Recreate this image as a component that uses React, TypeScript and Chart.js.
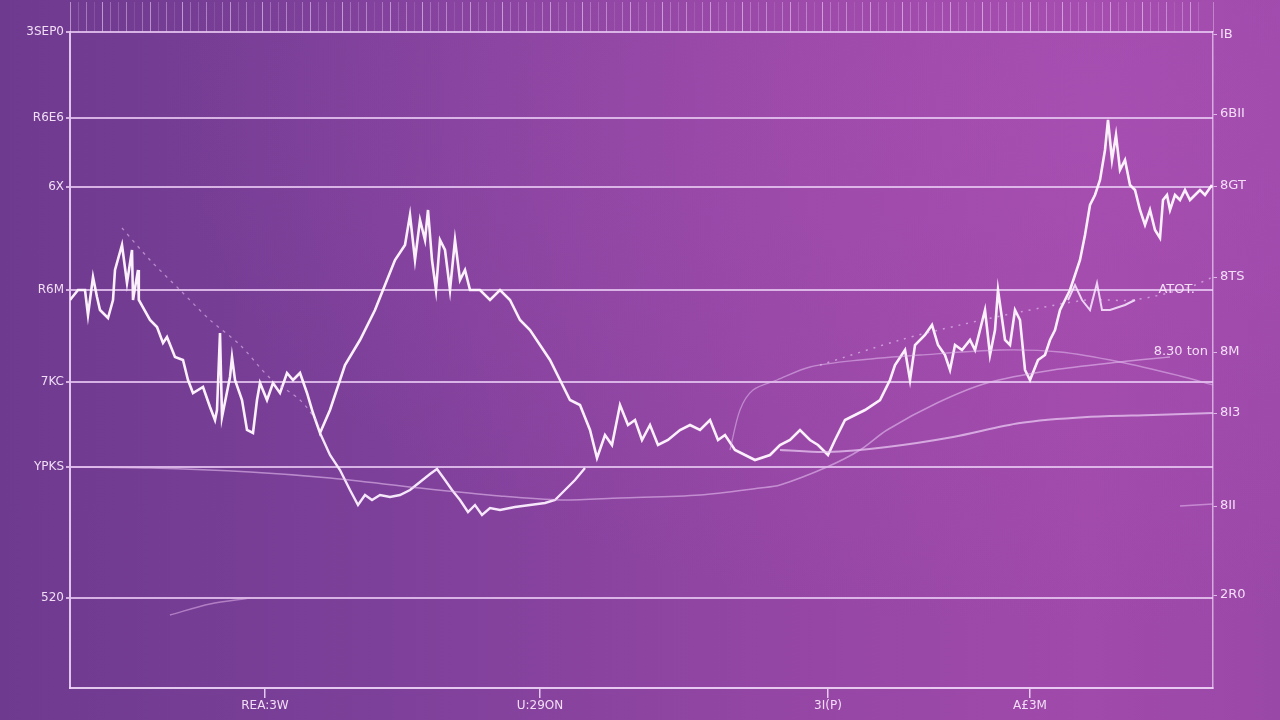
import React, { useEffect, useRef } from "react";
import { Chart, registerables } from "chart.js";

Chart.register(...registerables);

// ---- Data (x: period index, y: value) ----
const mainSeries: [number, number][] = [
  [0, 97], [2, 99.5], [3.75, 99.5], [4.5, 93.25], [5.75, 102.75], [6.75, 97.75], [7.5, 94.5],
  [9.5, 92.5], [10.75, 97], [11.25, 104.5], [13, 110.75], [14.25, 101.25], [15.5, 109.5],
  [15.75, 97], [17, 104.5], [17.2, 97], [20, 92], [21.75, 90.25], [23.25, 86.25], [24.25, 87.75],
  [26.25, 82.75], [28.25, 82], [29.5, 77], [30.75, 73.75], [33.25, 75.25], [35, 70.25],
  [36.25, 67], [36.75, 69.5], [37.5, 88.75], [38, 67.75], [40, 77.75], [40.5, 82.75],
  [41.25, 77], [43, 72], [44.25, 64.5], [45.75, 63.75], [46.75, 72], [47.5, 76.25], [49.25, 72],
  [50.75, 76.25], [52.5, 73.75], [54.25, 78.75], [55.75, 77], [57.5, 78.75], [59.25, 73.75],
  [60.75, 68.75], [62.5, 63.75], [65, 69.5], [68.75, 80.75], [72.5, 87], [76.25, 94.5],
  [78.75, 100.75], [81.25, 107], [83.75, 110.75], [85, 118.25], [86.25, 107], [87.5, 117],
  [88.75, 112], [89.5, 119.5], [90.5, 107], [91.5, 99.5], [92.5, 112], [93.75, 109.5], [95, 99.5],
  [96.25, 112], [97.5, 102], [98.75, 104.5], [100, 99.5], [102.5, 99.5], [105, 97], [107.5, 99.5],
  [110, 97], [112.5, 92], [115, 89.5], [117.5, 85.75], [120, 82], [122.5, 77], [125, 72],
  [127.5, 70.75], [130, 64.5], [131.75, 57.5], [133.75, 63.25], [135.5, 60.75], [137.5, 70.75],
  [139.5, 65.75], [141.25, 67], [143, 62], [145, 65.75], [147, 60.75], [149.5, 62], [152.5, 64.5],
  [155, 65.75], [157.5, 64.5], [160, 67], [162, 62], [163.75, 63.25], [166.25, 59.5],
  [168.75, 58.25], [171.25, 57], [175, 58.25], [177.5, 60.75], [180, 62], [182.5, 64.5], [185, 62],
  [187, 60.75], [189.5, 58.25], [191.25, 62], [193.75, 67], [196.25, 68.25], [198.75, 69.5],
  [202.5, 72], [205, 77], [206.25, 80.75], [208.75, 84.5], [210, 77], [211.25, 85.75],
  [213.75, 88.25], [215.5, 90.75], [217, 85.75], [218.75, 83.25], [220, 79.5], [221.25, 85.75],
  [223, 84.5], [225, 87], [226.25, 84.5], [228.75, 94.5], [230, 83.25], [231.25, 89.5], [232, 99.5],
  [233.75, 87], [235, 85.75], [236.25, 94.5], [237.5, 92], [238.75, 79.5], [240, 77], [242, 82],
  [243.75, 83.25], [245, 87], [246.25, 89.5], [247.5, 94.5], [248.75, 97], [250, 99.5],
  [251.25, 103.25], [252.5, 107], [253.75, 113.25], [255, 120.75], [256.25, 123.25], [257.5, 127],
  [258.75, 134.5], [259.5, 142], [260.5, 132], [261.5, 138.25], [262.5, 129.5], [263.75, 132],
  [265, 125.75], [266.25, 124.5], [267.5, 119.5], [268.75, 115.75], [270, 119.5], [271.25, 114.5],
  [272.5, 112.5], [273.25, 122], [274.25, 123.25], [275, 119.5], [276.25, 123.25], [277.5, 122],
  [278.75, 124.5], [280, 122], [281.25, 123.25], [282.5, 124.5], [283.75, 123.25], [285.5, 125.75],
];

const branchSeries: [number, number][] = [
  [249.5, 97], [251.25, 100.75], [253, 97], [255, 94.5], [256.75, 101.25], [258, 94.5],
  [260, 94.5], [263.75, 95.75], [266.25, 97],
];

const troughSeries: [number, number][] = [
  [62.5, 63.75], [65, 58.25], [67.5, 54.5], [70, 49.5], [72, 45.75], [73.75, 48.25], [75.5, 47],
  [77.5, 48.25], [80, 47.75], [82.5, 48.25], [85, 49.5], [87.5, 51.5], [90, 53.5], [91.75, 54.75],
  [93.75, 52], [95.5, 49.5], [97.5, 47], [99.5, 44], [101.25, 45.75], [103, 43.25], [105, 45],
  [107.5, 44.5], [111.25, 45.25], [115, 45.75], [118.75, 46.25], [121.25, 47], [123.75, 49.5],
  [126.25, 52], [128.75, 55],
];

const trendDown: [number, number][] = [
  [13, 115], [20, 107], [27.5, 99.5], [35, 92], [42.5, 85.75], [50, 77.5], [57.5, 72], [62.5, 65.75],
];

const baseLine: [number, number][] = [
  [0, 55.25], [20, 55], [45, 54], [65, 52.5], [87.5, 50], [107.5, 48], [122.5, 47], [137.5, 47.5],
  [157.5, 48.25], [172.5, 50], [177.5, 50.75], [189.25, 55.25], [197.5, 59.5], [204.25, 64.5],
  [216.75, 71.25], [229.25, 76.25], [245.75, 79.5], [262.5, 81.5], [275, 82.75],
];

const slowLine: [number, number][] = [
  [177.5, 59.5], [189.25, 59], [204.25, 60.25], [220.75, 62.75], [237.5, 66.25], [254.25, 67.75],
  [270.75, 68.25], [285.75, 68.75],
];

const riseLine: [number, number][] = [
  [165, 59.5], [167.5, 69.5], [170.75, 74.5], [176.75, 77], [185, 80.25], [197.5, 82],
  [212.5, 83.25], [232.5, 84.5], [247.5, 84], [262.5, 81.5], [277.5, 78], [285.75, 75.75],
];

const dottedUpper: [number, number][] = [
  [187.5, 80.75], [207.5, 87], [222.5, 90.75], [237.5, 94], [254.25, 97], [265.75, 97],
  [279.25, 100], [285.75, 102.75],
];

const stubLow: [number, number][] = [[25, 18.25], [35, 21], [45, 22.5]];
const stubRight: [number, number][] = [[277.5, 45.5], [285.75, 46]];

// ---- Axis ticks and labels ----
const leftTickValues = [164, 142.5, 125.25, 99.5, 76.5, 55.25, 22.5];
const leftTickLabels = ["3SEP0", "R6E6", "6X", "R6M", "7KC", "YPKS", "520"];
const rightTickValues = [163.25, 143.5, 125.5, 102.75, 84, 68.75, 45.5, 23.25];
const rightTickLabels = ["IB", "6BII", "8GT", "8TS", "8M", "8I3", "8II", "2R0"];
const bottomTickValues = [48.75, 117.5, 189.5, 240];
const bottomTickLabels = ["REA:3W", "U:29ON", "3I(P)", "A£3M"];
const topTickAlpha = [0.55, 0.2, 0.4, 0.15, 0.6, 0.3, 0.22, 0.45, 0.12, 0.35];

const noteLabels = ["8.30 ton", "ATOT."];
const noteX = [284.5, 281.25];
const noteY = [84, 99.5];

const X_MAX = 285.75;
const Y_MAX = 164;

const labelColor = "rgba(248,230,250,0.95)";
const gridColor = "rgba(232,200,242,0.85)";

const toPts = (s: [number, number][]) => s.map(([x, y]) => ({ x, y }));

const notesPlugin = {
  id: "notes",
  afterDatasetsDraw(chart: any) {
    const { ctx, scales } = chart;
    ctx.save();
    ctx.fillStyle = labelColor;
    ctx.font = "13px 'DejaVu Sans'";
    ctx.textAlign = "right";
    ctx.textBaseline = "middle";
    noteLabels.forEach((t, i) => {
      ctx.fillText(t, scales.x.getPixelForValue(noteX[i]), scales.y.getPixelForValue(noteY[i]));
    });
    ctx.restore();
  },
};

export default function App() {
  const ref = useRef<HTMLCanvasElement | null>(null);

  useEffect(() => {
    if (!ref.current) return;
    const faint = (data: [number, number][], color: string, width: number, dash: number[] = []) => ({
      data: toPts(data),
      borderColor: color,
      borderWidth: width,
      borderDash: dash,
      pointRadius: 0,
      tension: 0.3,
      fill: false,
    });
    const chart = new Chart(ref.current, {
      type: "line",
      data: {
        datasets: [
          faint(stubLow, "rgba(225,180,235,0.55)", 1.5),
          faint(stubRight, "rgba(225,180,235,0.6)", 1.5),
          faint(baseLine, "rgba(228,190,238,0.6)", 1.5),
          faint(slowLine, "rgba(232,200,242,0.75)", 2),
          faint(riseLine, "rgba(228,190,238,0.55)", 1.3),
          faint(dottedUpper, "rgba(235,205,245,0.6)", 1.5, [2, 6]),
          faint(trendDown, "rgba(230,190,240,0.6)", 1.3, [3, 5]),
          {
            data: toPts(troughSeries),
            borderColor: "rgba(252,240,255,0.95)",
            borderWidth: 2.4,
            pointRadius: 0,
            tension: 0,
            fill: false,
          },
          {
            data: toPts(branchSeries),
            borderColor: "rgba(250,235,255,0.85)",
            borderWidth: 2,
            pointRadius: 0,
            tension: 0,
            fill: false,
          },
          {
            data: toPts(mainSeries),
            borderColor: "rgba(255,246,255,0.97)",
            borderWidth: 2.6,
            pointRadius: 0,
            tension: 0,
            fill: false,
          },
        ],
      },
      options: {
        responsive: false,
        animation: false,
        devicePixelRatio: 1,
        layout: { padding: 0 },
        plugins: { legend: { display: false }, tooltip: { enabled: false } },
        scales: {
          x: {
            type: "linear",
            position: "bottom",
            min: 0,
            max: X_MAX,
            afterBuildTicks: (s: any) => {
              s.ticks = bottomTickValues.map((v) => ({ value: v }));
            },
            afterFit: (s: any) => {
              s.height = 32;
            },
            ticks: {
              autoSkip: false,
              maxRotation: 0,
              padding: 1,
              color: labelColor,
              font: { family: "'DejaVu Sans'", size: 12 },
              callback: (_v: any, i: number) => bottomTickLabels[i],
            },
            grid: {
              drawOnChartArea: false,
              drawTicks: true,
              tickLength: 10,
              color: "rgba(240,215,248,0.9)",
              lineWidth: 1.5,
            },
            border: { display: true, color: "rgba(240,215,248,0.9)", width: 2 },
          },
          xTop: {
            type: "linear",
            position: "top",
            min: 0,
            max: X_MAX,
            afterFit: (s: any) => {
              s.height = 32;
            },
            ticks: { display: false, stepSize: 2, autoSkip: false },
            grid: {
              drawOnChartArea: false,
              drawTicks: true,
              tickLength: 30,
              color: (c: any) => `rgba(240,215,248,${topTickAlpha[c.index % topTickAlpha.length]})`,
              lineWidth: 1,
            },
            border: { display: false },
          },
          y: {
            type: "linear",
            position: "left",
            min: 0,
            max: Y_MAX,
            afterBuildTicks: (s: any) => {
              s.ticks = leftTickValues.map((v) => ({ value: v }));
            },
            afterFit: (s: any) => {
              s.width = 70;
            },
            ticks: {
              autoSkip: false,
              padding: 2,
              color: labelColor,
              font: { family: "'DejaVu Sans'", size: 12 },
              callback: (_v: any, i: number) => leftTickLabels[i],
            },
            grid: {
              drawOnChartArea: true,
              drawTicks: true,
              tickLength: 4,
              color: gridColor,
              lineWidth: 2,
            },
            border: { display: true, color: "rgba(238,212,246,0.9)", width: 2 },
          },
          y2: {
            type: "linear",
            position: "right",
            min: 0,
            max: Y_MAX,
            afterBuildTicks: (s: any) => {
              s.ticks = rightTickValues.map((v) => ({ value: v }));
            },
            afterFit: (s: any) => {
              s.width = 67;
            },
            ticks: {
              autoSkip: false,
              padding: 3,
              color: labelColor,
              font: { family: "'DejaVu Sans'", size: 13 },
              callback: (_v: any, i: number) => rightTickLabels[i],
            },
            grid: {
              drawOnChartArea: false,
              drawTicks: true,
              tickLength: 4,
              color: "rgba(238,212,246,0.8)",
              lineWidth: 1,
            },
            border: { display: true, color: "rgba(238,212,246,0.7)", width: 1.5, dash: [2, 5] },
          },
        },
      },
      plugins: [notesPlugin],
    } as any);
    return () => chart.destroy();
  }, []);

  return (
    <div
      style={{
        position: "fixed",
        left: 0,
        top: 0,
        width: 1280,
        height: 720,
        background:
          "radial-gradient(ellipse at 85% 15%, rgba(172,82,182,0.55), rgba(172,82,182,0) 60%), linear-gradient(to right, #6e3a8f 0%, #7d409a 30%, #9446a4 60%, #a04aab 85%, #9a48a8 100%)",
      }}
    >
      <canvas ref={ref} width={1280} height={720} style={{ width: 1280, height: 720, display: "block" }} />
    </div>
  );
}
